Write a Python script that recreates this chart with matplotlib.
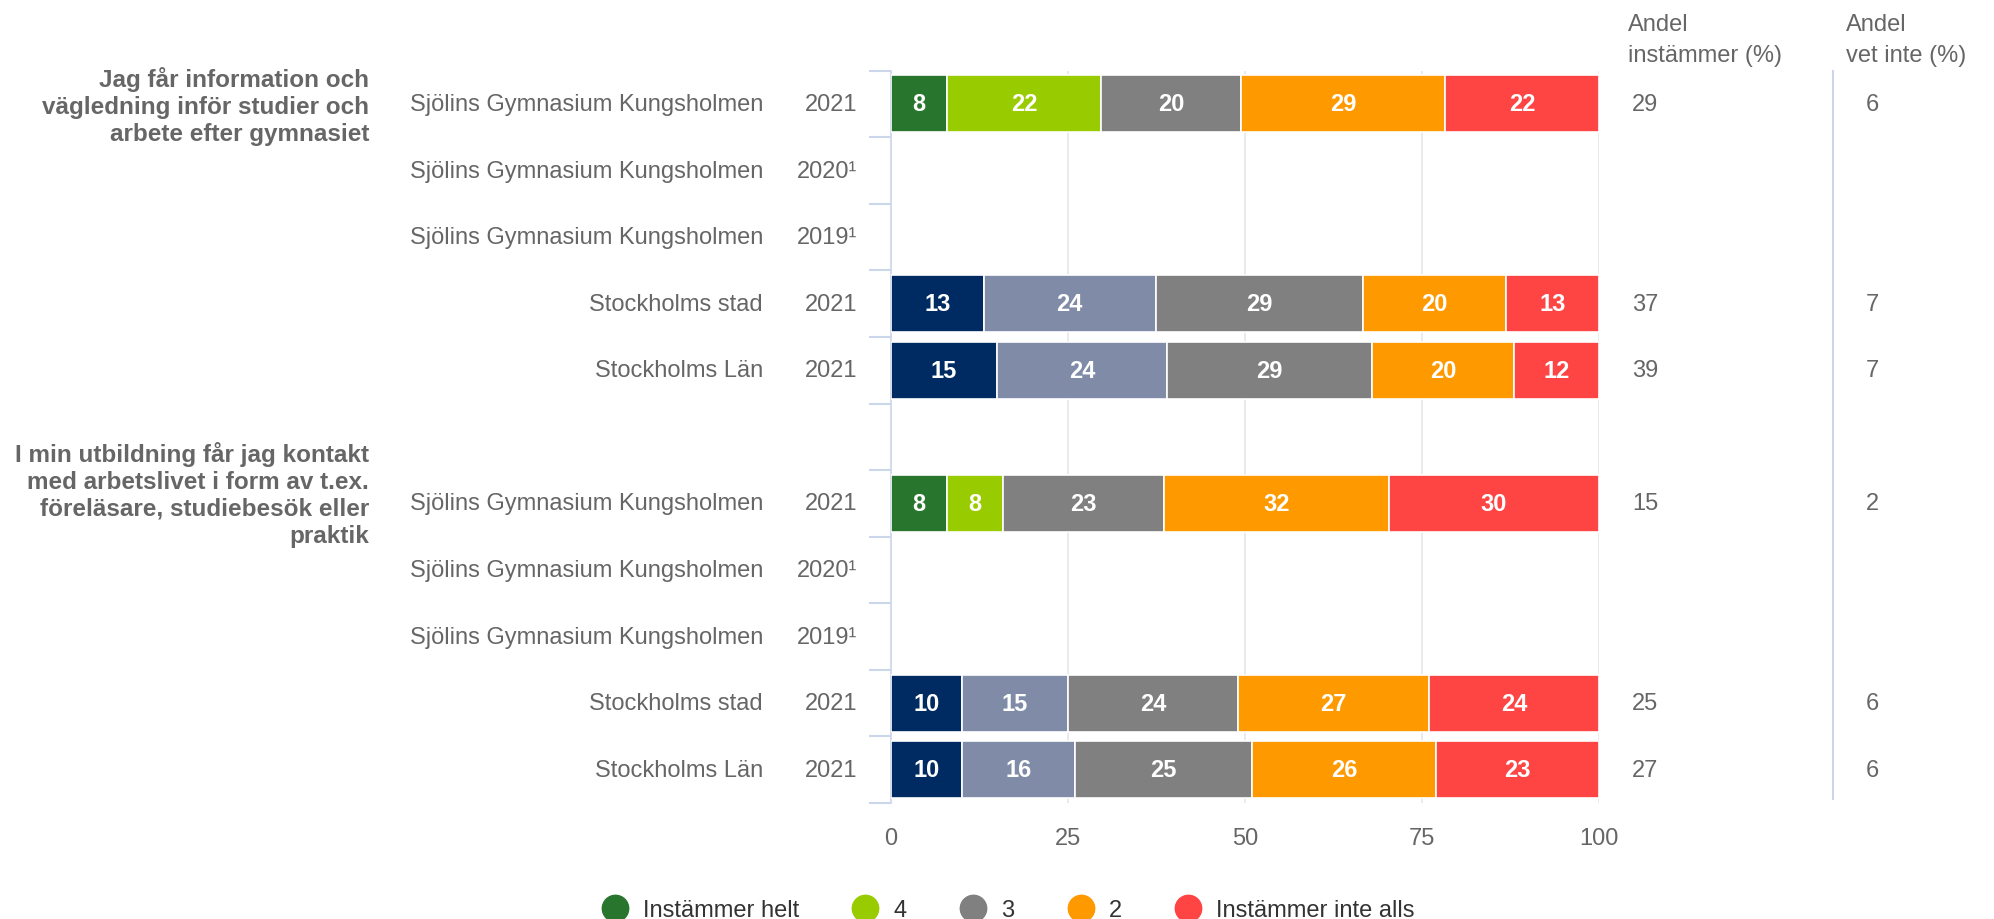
import matplotlib.pyplot as plt
from matplotlib.lines import Line2D
from matplotlib.transforms import blended_transform_factory

plt.rcParams['font.family'] = ['Liberation Sans', 'DejaVu Sans']

# Data
questions = [
    "Jag får information och\nvägledning inför studier och\narbete efter gymnasiet",
    "I min utbildning får jag kontakt\nmed arbetslivet i form av t.ex.\nföreläsare, studiebesök eller\npraktik",
]
units = ["Sjölins Gymnasium Kungsholmen", "Sjölins Gymnasium Kungsholmen",
         "Sjölins Gymnasium Kungsholmen", "Stockholms stad", "Stockholms Län"]
years = ["2021", "2020¹", "2019¹", "2021", "2021"]

q1_values = [[8, 22, 20, 29, 22], None, None, [13, 24, 29, 20, 13], [15, 24, 29, 20, 12]]
q2_values = [[8, 8, 23, 32, 30], None, None, [10, 15, 24, 27, 24], [10, 16, 25, 26, 23]]
q1_agree = [29, None, None, 37, 39]
q1_dontknow = [6, None, None, 7, 7]
q2_agree = [15, None, None, 25, 27]
q2_dontknow = [2, None, None, 6, 6]

legend_labels = ["Instämmer helt", "4", "3", "2", "Instämmer inte alls"]
school_colors = ["#28752e", "#99cc00", "#808080", "#ff9900", "#ff4444"]
region_colors = ["#002b62", "#7f8ba7", "#808080", "#ff9900", "#ff4444"]

text_col = "#666666"
axis_col = "#ccd6eb"
fs = 17

fig = plt.figure(figsize=(19.94, 9.2), dpi=100)
ax = fig.add_axes([891 / 1994, 1 - 804 / 920, 708 / 1994, (804 - 71.7) / 920])

# build rows: group 1, blank row, group 2
rows = []
for gi, (vals, agree, dk) in enumerate([(q1_values, q1_agree, q1_dontknow),
                                        (q2_values, q2_agree, q2_dontknow)]):
    for i in range(5):
        rows.append((units[i], years[i], vals[i], agree[i], dk[i], i >= 3))
    if gi == 0:
        rows.append(None)

for y, row in enumerate(rows):
    if row is None or row[2] is None:
        continue
    unit, year, vals, agree, dk, region = row
    total = sum(vals)
    colors = region_colors if region else school_colors
    left = 0
    for v, c in zip(vals, colors):
        w = v / total * 100
        ax.barh(y, w, left=left, height=0.856, color=c, edgecolor='white', linewidth=1.2, zorder=3)
        ax.text(left + w / 2, y, str(v), ha='center', va='center', color='white',
                fontsize=fs, fontweight='bold', zorder=4)
        left += w

ax.set_xlim(0, 100)
ax.set_ylim(len(rows) - 0.5, -0.5)
ax.set_xticks([0, 25, 50, 75, 100])
ax.tick_params(axis='x', length=0, pad=17, labelsize=fs, labelcolor=text_col)
ax.set_yticks([i - 0.5 for i in range(len(rows) + 1)])
ax.set_yticklabels([])
ax.tick_params(axis='y', length=16, width=1.5, color=axis_col)
ax.grid(axis='x', color='#e6e6e6', linewidth=1.2, zorder=0)
for s in ['top', 'right', 'bottom']:
    ax.spines[s].set_visible(False)
ax.spines['left'].set_color(axis_col)
ax.spines['left'].set_linewidth(1.2)

# row labels and right-hand columns
tr = blended_transform_factory(fig.transFigure, ax.transData)
for y, row in enumerate(rows):
    if row is None:
        continue
    unit, year, vals, agree, dk, region = row
    ax.text(763 / 1994, y, unit, transform=tr, ha='right', va='center', fontsize=fs, color=text_col)
    ax.text(857 / 1994, y, year, transform=tr, ha='right', va='center', fontsize=fs, color=text_col)
    if agree is not None:
        ax.text(1632 / 1994, y, str(agree), transform=tr, ha='left', va='center', fontsize=fs, color=text_col)
        ax.text(1866 / 1994, y, str(dk), transform=tr, ha='left', va='center', fontsize=fs, color=text_col)

# question labels
fig.text(369 / 1994, 1 - 67 / 920, questions[0], ha='right', va='top', fontsize=17.5,
         fontweight='bold', color=text_col, linespacing=1.22)
fig.text(369 / 1994, 1 - 442 / 920, questions[1], ha='right', va='top', fontsize=17.5,
         fontweight='bold', color=text_col, linespacing=1.22)

# column headers
fig.text(1628 / 1994, 1 - 14 / 920, "Andel\ninstämmer (%)", ha='left', va='top', fontsize=fs,
         color=text_col, linespacing=1.55)
fig.text(1846 / 1994, 1 - 14 / 920, "Andel\nvet inte (%)", ha='left', va='top', fontsize=fs,
         color=text_col, linespacing=1.55)
fig.add_artist(Line2D([1833 / 1994, 1833 / 1994], [1 - 72 / 920, 1 - 800 / 920],
                      transform=fig.transFigure, color=axis_col, linewidth=1.5))

# legend
handles = [Line2D([], [], marker='o', linestyle='none', markersize=19, color=c)
           for c in school_colors]
fig.legend(handles, legend_labels, loc='center', bbox_to_anchor=(0.506, 1 - 911 / 920), ncol=5,
           frameon=False, fontsize=fs, labelcolor='#333333', handlelength=1.0,
           handletextpad=0.7, columnspacing=2.3)

fig.savefig("out.png", dpi=100)
